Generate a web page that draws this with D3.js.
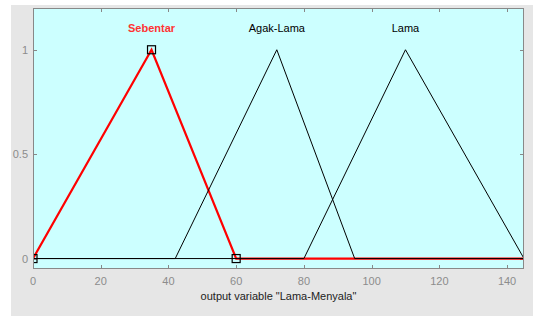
<!DOCTYPE html>
<html>
<head>
  <script src="https://d3js.org/d3.v7.min.js"></script>
  <style>
    body { margin: 0; background: #fff; }
    text { font-family: "Liberation Sans", Arial, sans-serif; }
  </style>
</head>
<body>
  <svg id="chart" width="533" height="316"></svg>
  <script>
    // membership functions of output variable "Lama-Menyala" (trimf params)
    const mfNames = ["Sebentar", "Agak-Lama", "Lama"];
    const mfParams = [[0, 35, 60], [42, 72, 95], [80, 110, 145]];
    const selected = 0;
    const xTicks = [0, 20, 40, 60, 80, 100, 120, 140];
    const yTicks = [0, 0.5, 1];
    const xDomain = [0, 145];
    const yDomain = [-0.05, 1.2];

    const svg = d3.select("#chart");
    const margin = { left: 33, top: 8, right: 524, bottom: 269 };

    svg.append("rect").attr("x", 11).attr("y", 5).attr("width", 522).attr("height", 311).attr("fill", "#e6e6e6");

    const x = d3.scaleLinear().domain(xDomain).range([margin.left, margin.right]);
    const y = d3.scaleLinear().domain(yDomain).range([margin.bottom, margin.top]);

    svg.append("defs").append("clipPath").attr("id", "plotClip")
      .append("rect").attr("x", margin.left).attr("y", margin.top)
      .attr("width", margin.right - margin.left).attr("height", margin.bottom - margin.top);

    svg.append("rect").attr("x", margin.left).attr("y", margin.top)
      .attr("width", margin.right - margin.left).attr("height", margin.bottom - margin.top)
      .attr("fill", "#ccffff");

    // ticks (inside, all four sides)
    const tickG = svg.append("g").attr("stroke", "#888").attr("stroke-width", 1);
    xTicks.forEach(t => {
      const px = Math.round(x(t)) + 0.5;
      tickG.append("line").attr("x1", px).attr("x2", px).attr("y1", margin.bottom).attr("y2", margin.bottom - 4);
      tickG.append("line").attr("x1", px).attr("x2", px).attr("y1", margin.top).attr("y2", margin.top + 4);
    });
    yTicks.forEach(t => {
      const py = Math.round(y(t)) + 0.5;
      tickG.append("line").attr("x1", margin.left).attr("x2", margin.left + 4).attr("y1", py).attr("y2", py);
      tickG.append("line").attr("x1", margin.right).attr("x2", margin.right - 4).attr("y1", py).attr("y2", py);
    });

    // tick labels
    svg.append("g").selectAll("text").data(xTicks).join("text")
      .attr("x", d => x(d)).attr("y", 285).attr("text-anchor", "middle")
      .attr("font-size", 11).attr("fill", "#8c8c8c").text(d => d);
    svg.append("g").selectAll("text").data(yTicks).join("text")
      .attr("x", 28).attr("y", d => y(d) + 4).attr("text-anchor", "end")
      .attr("font-size", 11).attr("fill", "#8c8c8c").text(d => d);

    const mfValue = (p, v) => {
      const [a, b, c] = p;
      if (v <= a || v >= c) return (v === b) ? 1 : 0;
      return v <= b ? (v - a) / (b - a) : (c - v) / (c - b);
    };
    const mfPoints = p => {
      const xs = [xDomain[0], p[0], p[1], p[2], xDomain[1]];
      return xs.map(v => [v, mfValue(p, v)]);
    };
    const line = d3.line().x(d => x(d[0])).y(d => y(d[1]));

    const plot = svg.append("g").attr("clip-path", "url(#plotClip)");

    // selected MF first (red, thick), others on top
    plot.append("path").attr("d", line(mfPoints(mfParams[selected])))
      .attr("fill", "none").attr("stroke", "#ff0000").attr("stroke-width", 2.2);
    mfParams.forEach((p, i) => {
      if (i === selected) return;
      plot.append("path").attr("d", line(mfPoints(p)))
        .attr("fill", "none").attr("stroke", "#000").attr("stroke-width", 1);
    });

    // vertex handles of selected MF
    plot.selectAll("rect.handle").data(mfParams[selected]).join("rect")
      .attr("class", "handle")
      .attr("x", d => x(d) - 4).attr("y", d => y(mfValue(mfParams[selected], d)) - 4)
      .attr("width", 8).attr("height", 8)
      .attr("fill", "none").attr("stroke", "#000").attr("stroke-width", 1.2);

    // MF names
    svg.append("g").selectAll("text").data(mfNames).join("text")
      .attr("x", (d, i) => x(mfParams[i][1])).attr("y", 32)
      .attr("text-anchor", "middle").attr("font-size", 11)
      .attr("font-weight", (d, i) => i === selected ? "bold" : "normal")
      .attr("fill", (d, i) => i === selected ? "#ff3333" : "#000")
      .text(d => d);

    // frame
    svg.append("rect").attr("x", margin.left + 0.5).attr("y", margin.top + 0.5)
      .attr("width", margin.right - margin.left - 1).attr("height", margin.bottom - margin.top - 1)
      .attr("fill", "none").attr("stroke", "#888");

    svg.append("text").attr("x", (margin.left + margin.right) / 2).attr("y", 300)
      .attr("text-anchor", "middle").attr("font-size", 11).attr("fill", "#222")
      .text('output variable "Lama-Menyala"');
  </script>
</body>
</html>
